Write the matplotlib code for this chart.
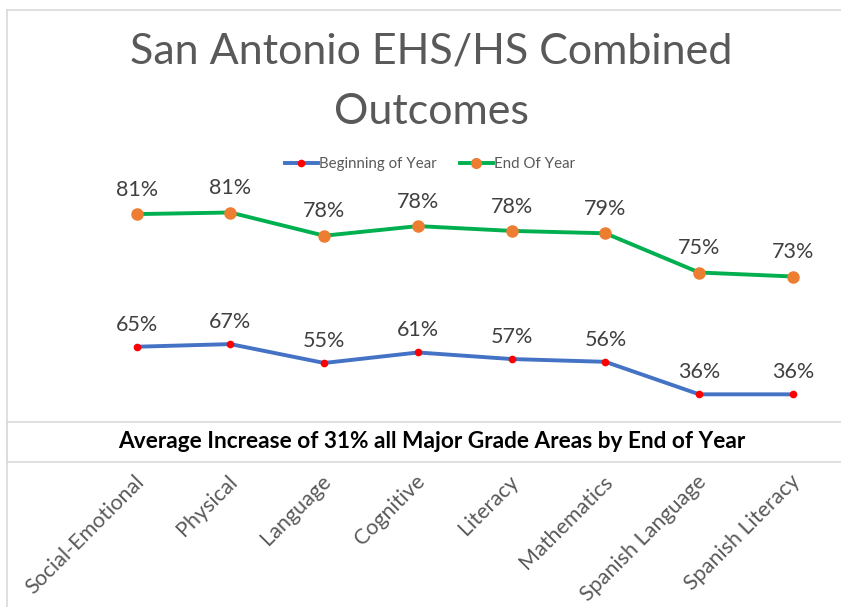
import matplotlib
matplotlib.use("Agg")
import matplotlib.pyplot as plt
from matplotlib.patches import Rectangle
from matplotlib.lines import Line2D
from matplotlib.transforms import ScaledTranslation

plt.rcParams['font.family'] = ['Lato', 'DejaVu Sans']

categories = ['Social-Emotional', 'Physical', 'Language', 'Cognitive',
              'Literacy', 'Mathematics', 'Spanish Language', 'Spanish Literacy']
begin_vals = [65.0, 66.6, 55.1, 61.5, 57.5, 55.8, 36.0, 36.0]
begin_labels = ['65%', '67%', '55%', '61%', '57%', '56%', '36%', '36%']
end_vals = [80.9, 81.1, 78.2, 79.4, 78.8, 78.5, 73.6, 73.1]
end_labels = ['81%', '81%', '78%', '78%', '78%', '79%', '75%', '73%']

W, H = 841, 607
fig = plt.figure(figsize=(W / 100, H / 100), dpi=100)

def fx(px):
    return px / W

def fy(py):
    return 1 - py / H

border = '#D9D9D9'
# chart border (top and left only visible)
fig.add_artist(Line2D([fx(7), 1.0], [fy(10), fy(10)], color=border, lw=1.2))
fig.add_artist(Line2D([fx(7), fx(7)], [fy(10), 0.0], color=border, lw=1.2))

left, right = 89.8, 839.8
top, bottom = 190, 453.4
pos = [fx(left), fy(bottom), fx(right) - fx(left), fy(top) - fy(bottom)]

ax = fig.add_axes(pos)
ax2 = ax.twinx()
ax2.set_position(pos)

x = list(range(len(categories)))
ax.plot(x, begin_vals, color='#4472C4', lw=2.8, marker='o', ms=4.5,
        mfc='#FF0000', mec='#FF0000', zorder=3)
ax2.plot(x, end_vals, color='#00B050', lw=2.8, marker='o', ms=8,
         mfc='#ED7D31', mec='#ED7D31', zorder=3)

ax.set_xlim(-0.5, 7.5)
ax.set_ylim(0, (bottom - top) / 1.641)
ax2.set_ylim(81 - (bottom - 213.3) / 8, 81 + (213.3 - top) / 8)

for xi, v, lab in zip(x, begin_vals, begin_labels):
    ax.annotate(lab, (xi, v), xytext=(0, 16), textcoords='offset points',
                ha='center', va='center', fontsize=15.5, color='#404040')
for xi, v, lab in zip(x, end_vals, end_labels):
    ax2.annotate(lab, (xi, v), xytext=(0, 17.5), textcoords='offset points',
                 ha='center', va='center', fontsize=15.5, color='#404040')

for a in (ax, ax2):
    for s in a.spines.values():
        s.set_visible(False)
    a.set_yticks([])
    a.patch.set_alpha(0)

ax.set_xticks(x)
ax.set_xticklabels(categories, rotation=45, ha='right', va='center',
                   rotation_mode='anchor', fontsize=15.5, color='#595959')
ax.tick_params(axis='x', length=0, pad=18)
shift = ScaledTranslation(4 / 100, 0, fig.dpi_scale_trans)
for lab in ax.get_xticklabels():
    lab.set_transform(lab.get_transform() + shift)

# title
cx = fx(431)
fig.text(cx, fy(52), 'San Antonio EHS/HS Combined',
         ha='center', va='center', fontsize=31, color='#595959')
fig.text(cx, fy(112), 'Outcomes',
         ha='center', va='center', fontsize=31, color='#595959')

# legend
handles = [Line2D([], [], color='#4472C4', lw=2.8, marker='o', ms=4.5,
                  mfc='#FF0000', mec='#FF0000'),
           Line2D([], [], color='#00B050', lw=2.8, marker='o', ms=7,
                  mfc='#ED7D31', mec='#ED7D31')]
fig.legend(handles, ['Beginning of Year', 'End Of Year'], loc='center',
           bbox_to_anchor=(fx(430), fy(164)), ncol=2, frameon=False,
           fontsize=10.8, labelcolor='#595959', handlelength=2.2,
           handletextpad=0.1, columnspacing=1.5)

# annotation box
fig.add_artist(Rectangle((fx(7), fy(462)), 1.0, fy(422) - fy(462),
                         transform=fig.transFigure, facecolor='white',
                         edgecolor='none', zorder=5))
for yy in (422, 462):
    fig.add_artist(Line2D([fx(7), 1.0], [fy(yy), fy(yy)], color=border,
                          lw=1.2, zorder=6))
fig.add_artist(Line2D([fx(7), fx(7)], [fy(422), fy(462)], color=border,
                      lw=1.2, zorder=6))
fig.text(fx(432), fy(442), 'Average Increase of 31% all Major Grade Areas by End of Year',
         ha='center', va='center', fontsize=16.3, fontweight='bold',
         color='black', zorder=7)

fig.savefig('out.png', dpi=100)
